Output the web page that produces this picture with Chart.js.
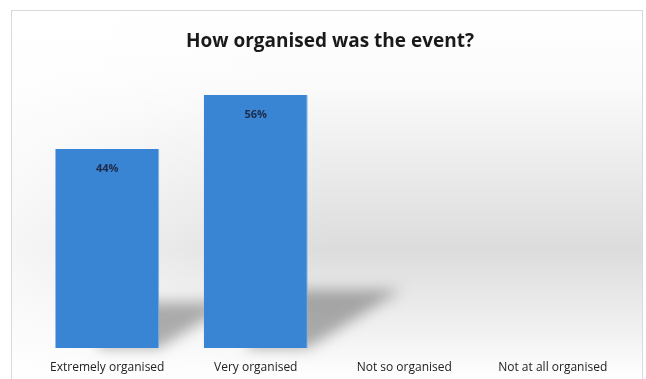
<!DOCTYPE html>
<html>
<head>
<meta charset="utf-8">
<script src="https://cdn.jsdelivr.net/npm/chart.js@4"></script>
<style>
  html, body { margin: 0; padding: 0; background: #fff; }
  #wrap { width: 646px; height: 379px; position: relative; }
</style>
</head>
<body>
<div id="wrap"><canvas id="myChart"></canvas></div>
<script>
const categories = ["Extremely organised", "Very organised", "Not so organised", "Not at all organised"];
const percents = [44, 56, 0, 0];
const chartTitle = "How organised was the event?";

// gray panel with soft vertical shading and a thin frame
const panelBg = {
  id: 'panelBg',
  beforeDraw(chart) {
    const c = chart.ctx;
    c.save();
    c.fillStyle = '#ffffff';
    c.fillRect(0, 0, chart.width, chart.height);
    const g = c.createLinearGradient(0, 10, 0, chart.height);
    g.addColorStop(0, '#ffffff');
    g.addColorStop(0.2, '#fbfbfb');
    g.addColorStop(0.65, '#dcdcdc');
    g.addColorStop(0.88, '#f2f2f2');
    g.addColorStop(1, '#ffffff');
    c.fillStyle = g;
    c.fillRect(11, 10, chart.width - 14, chart.height - 10);
    const h = c.createLinearGradient(11, 0, 330, 0);
    h.addColorStop(0, 'rgba(255,255,255,0.75)');
    h.addColorStop(1, 'rgba(255,255,255,0)');
    c.fillStyle = h;
    c.fillRect(11, 10, 320, chart.height - 10);
    c.strokeStyle = '#d9d9d9';
    c.lineWidth = 1;
    c.strokeRect(11.5, 10.5, chart.width - 15, chart.height);
    c.restore();
  }
};

// blurred floor shadow cast back and to the right of each bar
const barShadows = {
  id: 'barShadows',
  beforeDatasetsDraw(chart) {
    const c = chart.ctx;
    const bars = chart.getDatasetMeta(0).data;
    c.save();
    c.filter = 'blur(7px)';
    c.fillStyle = 'rgba(60,60,60,0.4)';
    bars.forEach(b => {
      const p = b.getProps(['x', 'y', 'base', 'width'], true);
      const h = p.base - p.y;
      if (!(h > 0)) return;
      const l = p.x - p.width / 2, r = p.x + p.width / 2;
      c.beginPath();
      c.moveTo(l + p.width * 0.4, p.base);
      c.lineTo(r, p.base);
      c.lineTo(r + h * 0.37, p.base - h * 0.23);
      c.lineTo(l + h * 0.3, p.base - h * 0.23);
      c.closePath();
      c.fill();
    });
    c.restore();
  }
};

// percentage text just inside the top of each bar
const valueLabels = {
  id: 'valueLabels',
  afterDatasetsDraw(chart) {
    const c = chart.ctx;
    const bars = chart.getDatasetMeta(0).data;
    c.save();
    c.font = 'bold 11px "Open Sans", sans-serif';
    c.fillStyle = '#1d2b4a';
    c.textAlign = 'center';
    c.textBaseline = 'middle';
    bars.forEach((b, i) => {
      if (!percents[i]) return;
      const p = b.getProps(['x', 'y'], true);
      c.fillText(percents[i] + '%', p.x, p.y + 20);
    });
    c.restore();
  }
};

function barFill(context) {
  const el = context.element;
  const x = el && el.x, w = el && el.width;
  if (!isFinite(x) || !isFinite(w) || !w) return '#3a85d3';
  const g = context.chart.ctx.createLinearGradient(x - w / 2, 0, x + w / 2, 0);
  g.addColorStop(0, '#3279c2');
  g.addColorStop(0.12, '#3c88d6');
  g.addColorStop(0.85, '#3d89d8');
  g.addColorStop(1, '#2f74bd');
  return g;
}

const ctx = document.getElementById('myChart');

new Chart(ctx, {
  type: 'bar',
  data: {
    labels: categories,
    datasets: [{
      data: percents,
      backgroundColor: barFill,
      borderColor: '#7ab4ec',
      borderWidth: { top: 0, left: 0, right: 1, bottom: 0 },
      categoryPercentage: 1,
      barPercentage: 0.7
    }]
  },
  options: {
    responsive: true,
    maintainAspectRatio: false,
    animation: false,
    layout: { padding: { left: 33, right: 19, top: 0, bottom: 0 } },
    plugins: {
      legend: { display: false },
      tooltip: { enabled: false },
      title: {
        display: true,
        text: chartTitle,
        color: '#1a1a1a',
        font: { family: '"Open Sans", sans-serif', size: 19, weight: 'bold' },
        padding: { top: 30, bottom: 24 }
      }
    },
    scales: {
      x: {
        grid: { display: false, drawTicks: false },
        border: { display: false },
        afterFit(scale) { scale.height = 31; },
        ticks: {
          color: '#222',
          padding: 12,
          maxRotation: 0,
          font: { family: '"Open Sans", sans-serif', size: 12 }
        }
      },
      y: {
        display: false,
        min: 0,
        max: 60
      }
    }
  },
  plugins: [panelBg, barShadows, valueLabels]
});
</script>
</body>
</html>
